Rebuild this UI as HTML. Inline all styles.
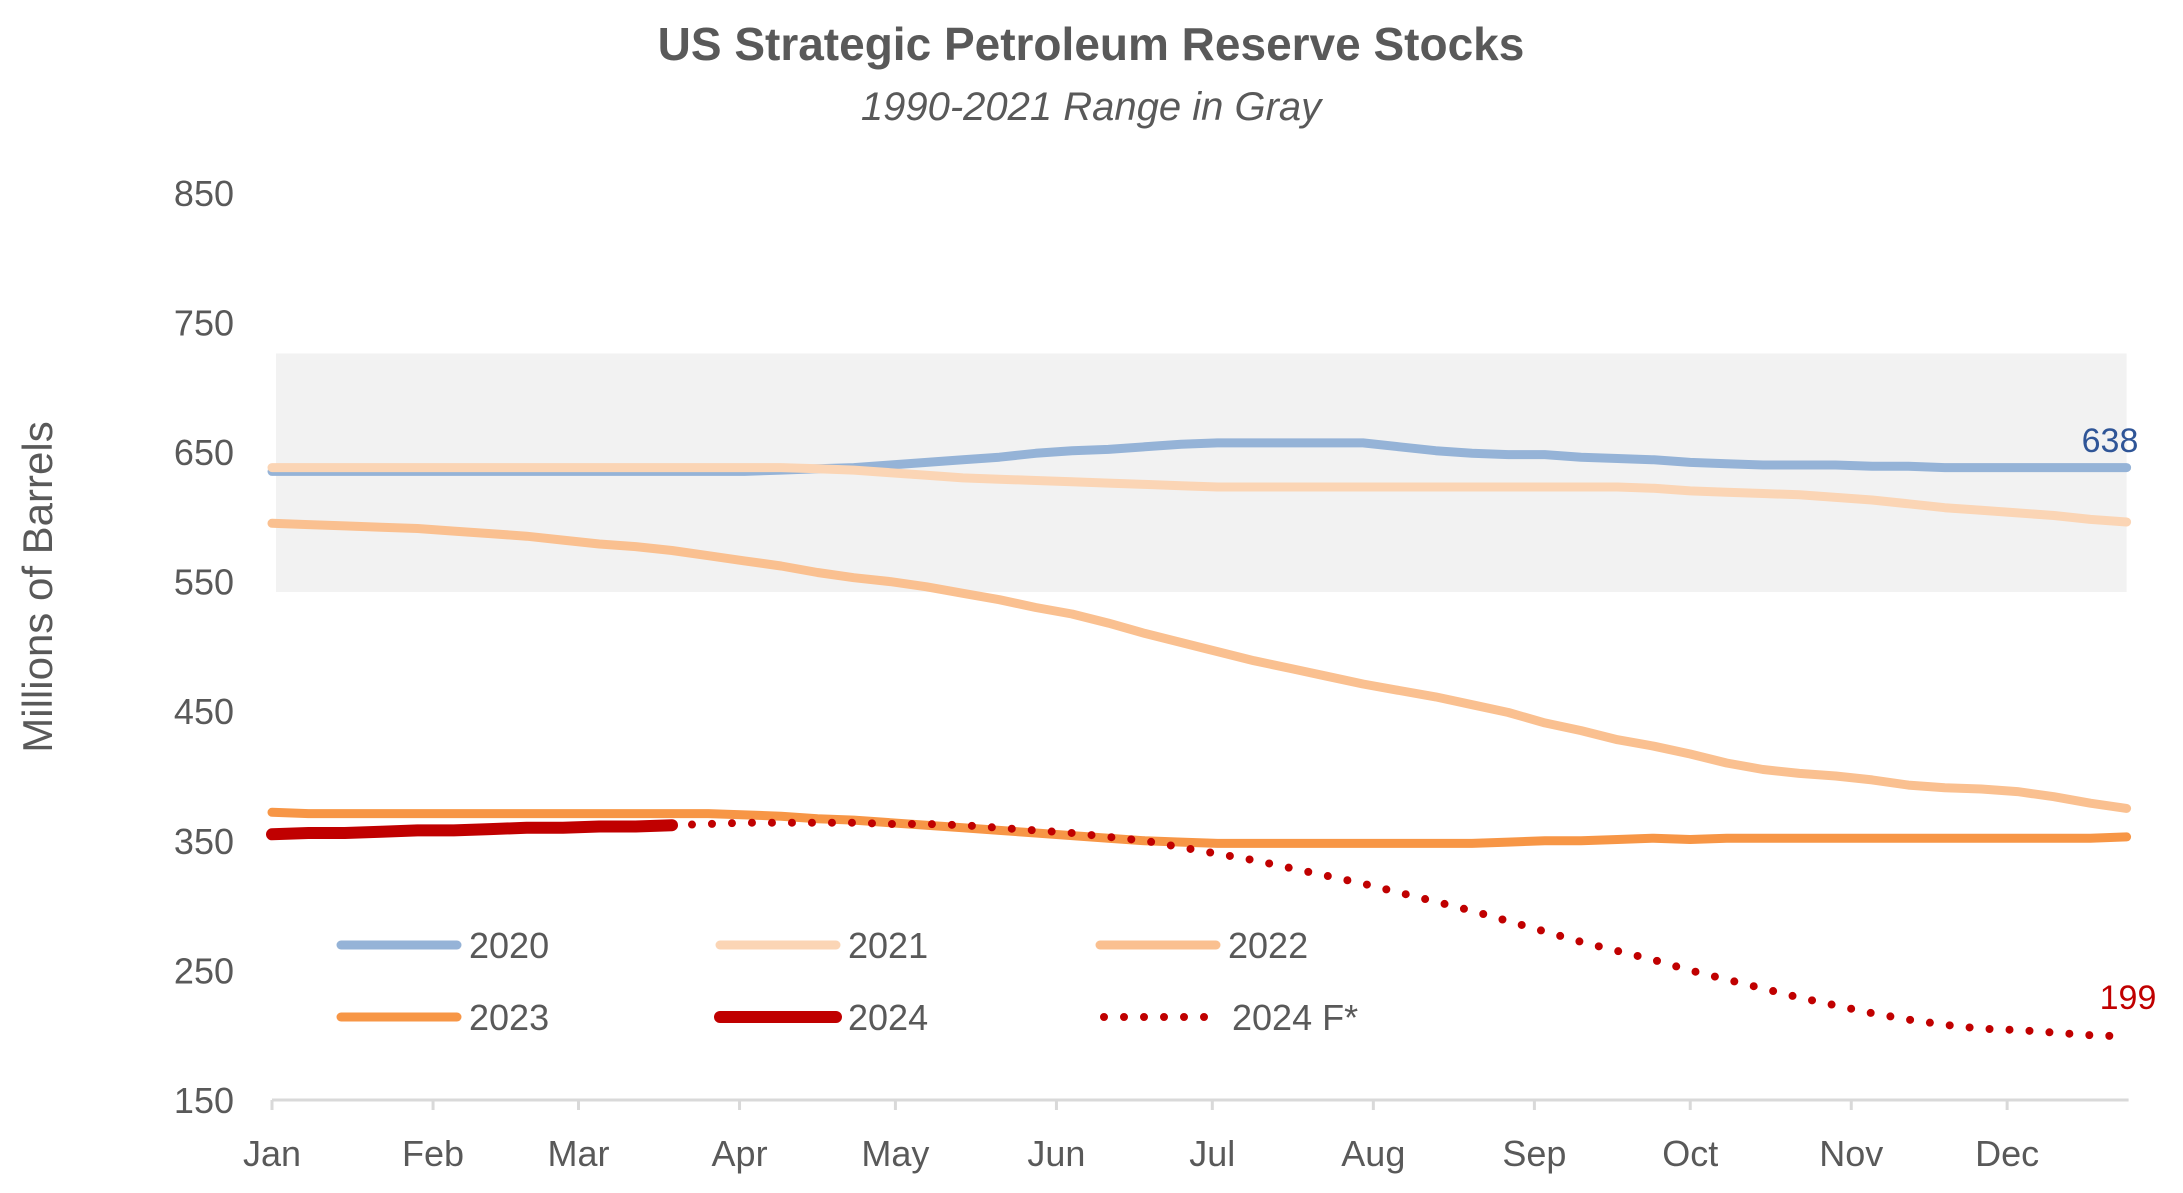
<!DOCTYPE html>
<html><head><meta charset="utf-8"><style>
body{margin:0;background:#fff;}
svg{display:block;font-family:"Liberation Sans",sans-serif;}
</style></head><body>
<svg id="chart" width="2183" height="1193" viewBox="0 0 2183 1193" xmlns="http://www.w3.org/2000/svg">
<text x="1091" y="60" text-anchor="middle" font-size="46" font-weight="bold" fill="#595959">US Strategic Petroleum Reserve Stocks</text>
<text x="1091" y="120" text-anchor="middle" font-size="40" font-style="italic" fill="#595959">1990-2021 Range in Gray</text>
<text transform="translate(52,587) rotate(-90)" text-anchor="middle" font-size="42" fill="#595959">Millions of Barrels</text>
<g id="plot"></g>
</svg>
<script>
const yTicks=[150,250,350,450,550,650,750,850];
const months=["Jan","Feb","Mar","Apr","May","Jun","Jul","Aug","Sep","Oct","Nov","Dec"];
const monthStartDays=[0,31,59,90,120,151,181,212,243,273,304,334];
const rangeLow=542, rangeHigh=726;
const s2020=[635,635,635,635,635,635,635,635,635,635,635,635,635,635,636,637,638,640,642,644,646,649,651,652,654,656,657,657,657,657,657,654,651,649,648,648,646,645,644,642,641,640,640,640,639,639,638,638,638,638,638,638];
const s2021=[638,638,638,638,638,638,638,638,638,638,638,638,638,638,638,637,636,634,632,630,629,628,627,626,625,624,623,623,623,623,623,623,623,623,623,623,623,623,622,620,619,618,617,615,613,610,607,605,603,601,598,596];
const s2022=[595,594,593,592,591,589,587,585,582,579,577,574,570,566,562,557,553,550,546,541,536,530,525,518,510,503,496,489,483,477,471,466,461,455,449,441,435,428,423,417,410,405,402,400,397,393,391,390,388,384,379,375];
const s2023=[372,371,371,371,371,371,371,371,371,371,371,371,371,370,369,367,366,364,362,360,358,356,354,352,350,349,348,348,348,348,348,348,348,348,349,350,350,351,352,351,352,352,352,352,352,352,352,352,352,352,352,353];
const s2024=[355,356,356,357,358,358,359,360,360,361,361,362];
const s2024F=[362,363,364,364,364,364,363,363,362,360,358,356,353,350,345,340,335,329,323,317,310,303,296,288,280,272,265,258,250,243,236,229,223,217,212,208,205,204,202,200,199];
const forecastStartWeek=11;
const label2020="638", label2024F="199";

const NS="http://www.w3.org/2000/svg";
const plot=document.getElementById('plot');
const X=d=>272+d*5.195;
const Y=v=>1100-(v-150)*1.296;
const wk=i=>X(i*7);
function mk(tag,attrs,parent){const e=document.createElementNS(NS,tag);for(const k in attrs)e.setAttribute(k,attrs[k]);(parent||plot).appendChild(e);return e;}

const band=mk('rect',{x:X(0)+4,y:Y(rangeHigh),width:wk(51)-X(0)-4,height:Y(rangeLow)-Y(rangeHigh),fill:'#f2f2f2'});



yTicks.forEach(v=>{const t=mk('text',{x:234,y:Y(v)+13,'text-anchor':'end','font-size':36,fill:'#595959'});t.textContent=v;

});

const ax=mk('line',{x1:X(0),x2:wk(51)+2,y1:Y(150),y2:Y(150),stroke:'#d9d9d9','stroke-width':3});


months.forEach((m,i)=>{const x=X(monthStartDays[i]);
const tk=mk('line',{x1:x,x2:x,y1:Y(150),y2:Y(150)+10,stroke:'#d9d9d9','stroke-width':3});


const t=mk('text',{x:x,y:1166,'text-anchor':'middle','font-size':36,fill:'#595959'});t.textContent=m;

});

function line(arr,start,color,w,name,dash){
  const pts=arr.map((v,i)=>wk(start+i).toFixed(1)+','+Y(v).toFixed(1)).join(' ');
  const a={points:pts,fill:'none',stroke:color,'stroke-width':w,'stroke-linecap':'round','stroke-linejoin':'round'};
  if(dash)a['stroke-dasharray']=dash;
  const p=mk('polyline',a);
  
  
}
line(s2020,0,'#95b3d7',9,'series-2020');
line(s2021,0,'#fbd5b5',9,'series-2021');
line(s2022,0,'#fac090',9,'series-2022');
line(s2023,0,'#f79646',9,'series-2023');
line(s2024F,forecastStartWeek,'#c00000',8,'series-2024-forecast','0 20');
line(s2024,0,'#c00000',12,'series-2024');

const l1=mk('text',{x:2110,y:452,'text-anchor':'middle','font-size':34,fill:'#2f5597'});l1.textContent=label2020;


const l2=mk('text',{x:2128,y:1009,'text-anchor':'middle','font-size':34,fill:'#c00000'});l2.textContent=label2024F;



const legend=[["2020","#95b3d7",9,337,945,null],["2021","#fbd5b5",9,716,945,null],["2022","#fac090",9,1096,945,null],
["2023","#f79646",9,337,1017,null],["2024","#c00000",12,716,1017,null],["2024 F*","#c00000",8,1100,1017,"0 20"]];
legend.forEach(([n,c,w,x,y,d])=>{
 const g=mk('g',{});
 
 
 const a={x1:x+4,x2:x+120,y1:y,y2:y,stroke:c,'stroke-width':w,'stroke-linecap':'round'};
 if(d)a['stroke-dasharray']=d;
 mk('line',a,g);
 const t=mk('text',{x:x+132,y:y+13,'font-size':36,fill:'#595959'},g);t.textContent=n;
});
</script>
</body></html>
